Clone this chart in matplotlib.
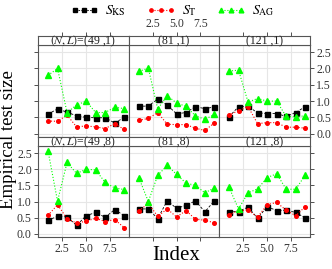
import matplotlib
matplotlib.use("Agg")
import matplotlib.pyplot as plt
import numpy as np

plt.rcParams['font.family'] = ['Liberation Serif', 'DejaVu Serif']
plt.rcParams['mathtext.fontset'] = 'stix'

idx = [1, 2, 3, 4, 5, 6, 7, 8, 9]

# top row, L = 1
ks_49_1 = [0.60, 0.76, 0.66, 0.55, 0.50, 0.49, 0.49, 0.33, 0.50]
t_49_1 = [0.39, 0.38, 0.57, 0.21, 0.24, 0.21, 0.16, 0.31, 0.13]
ag_49_1 = [1.79, 2.00, 0.65, 0.88, 1.00, 0.65, 0.65, 0.81, 0.77]

ks_81_1 = [0.84, 0.85, 1.06, 0.88, 0.61, 0.65, 0.83, 0.77, 0.82]
t_81_1 = [0.41, 0.47, 0.65, 0.29, 0.28, 0.28, 0.17, 0.10, 0.33]
ag_81_1 = [1.91, 2.01, 0.76, 1.17, 0.94, 0.84, 0.55, 0.44, 0.59]

ks_121_1 = [0.52, 0.83, 0.84, 0.64, 0.62, 0.62, 0.53, 0.65, 0.83]
t_121_1 = [0.57, 0.71, 0.83, 0.31, 0.34, 0.34, 0.20, 0.20, 0.17]
ag_121_1 = [1.92, 1.95, 0.97, 1.08, 1.00, 1.00, 0.53, 0.52, 0.55]

# bottom row, L = 8
ks_49_8 = [0.42, 0.54, 0.52, 0.26, 0.56, 0.66, 0.51, 0.75, 0.56]
t_49_8 = [0.57, 0.90, 0.47, 0.33, 0.39, 0.48, 0.38, 0.44, 0.19]
ag_49_8 = [2.57, 1.01, 2.21, 1.87, 2.00, 1.98, 1.59, 1.42, 1.37]

ks_81_8 = [0.77, 0.77, 0.47, 1.02, 0.79, 0.88, 1.02, 0.68, 1.02]
t_81_8 = [0.71, 0.94, 0.54, 0.77, 0.52, 0.72, 0.45, 0.42, 0.34]
ag_81_8 = [1.73, 1.00, 1.81, 2.12, 1.84, 1.57, 1.50, 1.27, 1.42]

ks_121_8 = [0.68, 0.69, 0.83, 0.48, 0.84, 0.72, 0.73, 0.66, 0.49]
t_121_8 = [0.59, 0.72, 0.73, 0.52, 0.90, 0.97, 0.73, 0.56, 0.84]
ag_121_8 = [1.44, 0.77, 1.27, 1.39, 1.74, 1.86, 1.38, 1.38, 1.82]

strips_top = [r'$(N,L)$=(49 ,1)', '(81 ,1)', '(121 ,1)']
strips_bot = [r'$(N,L)$=(49 ,8)', '(81 ,8)', '(121 ,8)']

panels = [
    [(ks_49_1, t_49_1, ag_49_1), (ks_81_1, t_81_1, ag_81_1), (ks_121_1, t_121_1, ag_121_1)],
    [(ks_49_8, t_49_8, ag_49_8), (ks_81_8, t_81_8, ag_81_8), (ks_121_8, t_121_8, ag_121_8)],
]
strips = [strips_top, strips_bot]

W, H = 332, 269
fig = plt.figure(figsize=(W / 100, H / 100), dpi=100)


def add_ax(x0, y0, x1, y1):
    return fig.add_axes([x0 / W, 1 - y1 / H, (x1 - x0) / W, (y1 - y0) / H])


cols = [(38, 129), (129, 219), (219, 310)]
rows = [(45, 137), (146, 237)]
strip_rows = [(36, 45), (137, 146)]
xlim = (-0.05, 9.5)
ylim = (-0.1, 2.72)
frame_col = '#555555'
tick_col = '#333333'

for r in range(2):
    for c in range(3):
        ax = add_ax(cols[c][0], rows[r][0], cols[c][1], rows[r][1])
        ks, t, ag = panels[r][c]
        ax.plot(idx, ks, color='black', ls='--', lw=0.6, marker='s', ms=3.6, dashes=(3, 2))
        ax.plot(idx, t, color='#ff0000', ls=':', lw=0.8, marker='o', ms=2.6)
        ax.plot(idx, ag, color='#00ff00', ls=':', lw=0.8, marker='^', ms=4.0)
        ax.set_xlim(xlim)
        ax.set_ylim(ylim)
        ax.set_xticks([2.5, 5.0, 7.5])
        ax.set_yticks([0.0, 0.5, 1.0, 1.5, 2.0, 2.5])
        ax.grid(True, color='#e6e6e6', lw=0.8)
        ax.set_axisbelow(True)
        for s in ax.spines.values():
            s.set_color(frame_col)
            s.set_linewidth(0.8)
        ax.tick_params(direction='out', length=3, width=0.6, color=tick_col,
                       labelsize=8.5, labelcolor=tick_col, pad=1.5)
        ax.tick_params(axis='x', bottom=(r == 1), labelbottom=(r == 1 and c != 1))
        ax.tick_params(axis='y', left=(c == 0), labelleft=(c == 0 and r == 1),
                       right=(c == 2), labelright=(c == 2 and r == 0))
        ax.yaxis.set_major_formatter(matplotlib.ticker.FormatStrFormatter('%.1f'))
        ax.xaxis.set_major_formatter(matplotlib.ticker.FormatStrFormatter('%.1f'))

        sax = add_ax(cols[c][0], strip_rows[r][0], cols[c][1], strip_rows[r][1])
        sax.set_xlim(xlim)
        sax.set_yticks([])
        sax.set_facecolor('white')
        for s in sax.spines.values():
            s.set_color(frame_col)
            s.set_linewidth(0.8)
        sax.text(0.5, 0.45, strips[r][c], transform=sax.transAxes, ha='center',
                 va='center', fontsize=8.5, color='#222222')
        sax.set_xticks([2.5, 5.0, 7.5])
        sax.xaxis.set_major_formatter(matplotlib.ticker.FormatStrFormatter('%.1f'))
        if r == 0:
            sax.tick_params(axis='x', bottom=False, labelbottom=False, top=True,
                            labeltop=(c == 1), direction='out', length=3, width=0.6,
                            color=tick_col, labelsize=8.5, labelcolor=tick_col, pad=1.5)
        else:
            sax.tick_params(axis='x', bottom=False, labelbottom=False, top=False,
                            labeltop=False)

handles = [
    plt.Line2D([], [], color='black', ls='--', lw=0.6, marker='s', ms=3.0, dashes=(2, 1.5)),
    plt.Line2D([], [], color='#ff0000', ls=':', lw=0.8, marker='o', ms=2.4),
    plt.Line2D([], [], color='#00ff00', ls=':', lw=0.8, marker='^', ms=3.4),
]
labels = [r'$S_{\mathrm{KS}}$', r'$S_{\mathrm{T}}$', r'$S_{\mathrm{AG}}$']
fig.legend(handles, labels, loc='center', bbox_to_anchor=(0.52, 1 - 11 / H), ncol=3,
           frameon=False, numpoints=3, handlelength=2.0, handletextpad=0.5,
           columnspacing=1.5, fontsize=10, borderpad=0.1)

fig.text(9 / W, 1 - 140 / H, 'Empirical test size', rotation=90, ha='center',
         va='center', fontsize=13.5)
fig.text(176 / W, 1 - 256 / H, 'Index', ha='center', va='center', fontsize=15)

fig.savefig('out.png', dpi=100)
